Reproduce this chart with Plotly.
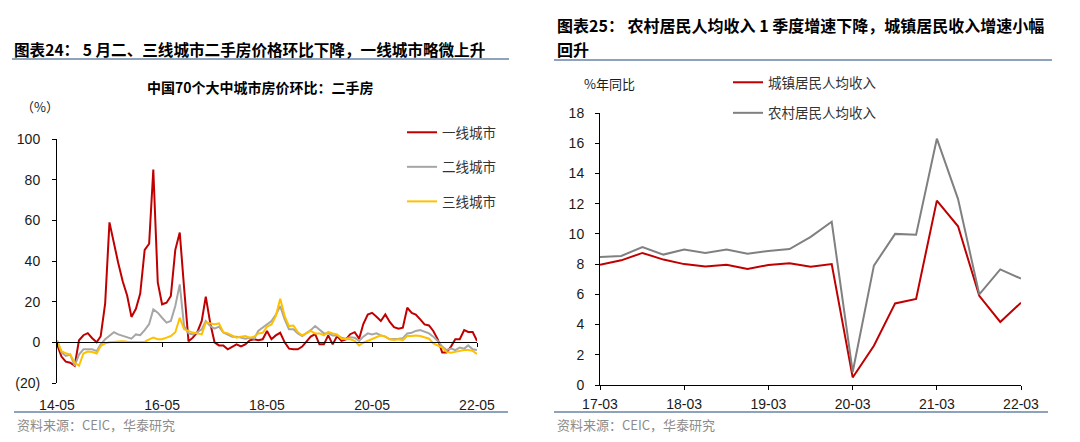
import plotly.graph_objects as go
import pandas as pd

# ---------------- data ----------------
months = pd.date_range("2014-05-01", periods=97, freq="MS")
tier1 = [-1, -7, -9.5, -10, -11.5, 1, 3.5, 4.5, 2, 0,
         3, 19, 59, 48, 39, 30, 23, 12.5, 16.5, 24,
         45.5, 48.5, 85, 29.5, 18.7, 19.5, 22.8, 45.5, 54, 27,
         0.5, 2.3, 5, 10.5, 22.5, 9.5, 0, -1.5, -1.5, -3.4,
         -2, -1, -2, -1, 1, 1.5, 1, 1.5, 5.6, 1.5,
         3.4, 4.7, 0, -3.1, -3.4, -3.4, -2.1, 0.7, 2.8, 4,
         -1, -1, 3.4, -1, 3.1, 0.7, 1.5, 4, 5, 1.8,
         9, 13.7, 14.5, 12.6, 10.5, 13.7, 10, 7.5, 6.7, 7.2,
         17, 14.5, 13.7, 11.3, 8.8, 8.3, 5.6, 1.5, -5, -5,
         -2.1, 1.5, 1.5, 6, 5.1, 5.1, 0.7]
tier2 = [1, -5, -6.7, -6, -11.5, -6, -3.4, -3.4, -3.4, -4.3,
         -1, 1.5, 3.1, 5, 3.9, 3.1, 2.3, 1.8, 3.9, 3.5,
         6, 9, 16.2, 14.6, 12.1, 9.7, 10.5, 17.9, 28.5, 8,
         4.4, 3.9, 5, 6.4, 10.5, 8, 6.7, 7.7, 4.8, 3.8,
         2.8, 2.8, 2.3, 1.8, 2.3, 1.8, 5.6, 7.2, 8.8, 10.5,
         13.5, 17.8, 11.3, 6.4, 6.4, 4.4, 3.1, 4.4, 6, 8,
         6.4, 4.4, 4.4, 3.4, 3.4, 2.3, 1.8, 2.5, 2.3, 0.7,
         2.8, 4.4, 3.9, 4.4, 3.4, 2.8, 1.5, 1.5, 1.8, 2,
         4.4, 4.7, 5.6, 6, 5.1, 4.4, 2.8, 0.7, -2.1, -3.8,
         -3.1, -3.8, -2.6, -3.1, -1.5, -3.4, -3.8]
tier3 = [1, -4.3, -5.4, -6, -10, -11.5, -5.5, -4.5, -4.8, -5.5,
         -1.8, -0.5, 0, 0.2, 0.5, 0.5, 0.3, 0.2, 0.2, 0,
         0.2, 1.5, 2.3, 1.5, 1.5, 2.3, 3.1, 5, 12.1, 6.4,
         5.6, 4.8, 4.4, 3.9, 9.7, 9.3, 8.9, 9.3, 5, 4.4,
         3.5, 2.3, 2.8, 3.1, 2.3, 2.8, 4.4, 4.7, 7.7, 8.8,
         12.9, 21.4, 12.9, 8, 8.3, 5.1, 3.4, 4.4, 5.6, 4.4,
         4.4, 3.4, 5.1, 4.4, 3.9, 1.8, 1.5, 1.5, 0.7, -1.5,
         -0.2, 0.7, 1.5, 2.8, 3.4, 2.8, 1.5, 1.1, 1.5, 1.1,
         3.1, 3.1, 3.4, 3.1, 2.3, 1.8, -0.5, -1.5, -2.6, -4.7,
         -5.1, -4.7, -4.2, -3.8, -3.8, -4.2, -5.7]
tier_names = ["一线城市", "二线城市", "三线城市"]
left_yticks = [-20, 0, 20, 40, 60, 80, 100]
left_yticktext = ["(20)", "0", "20", "40", "60", "80", "100"]
left_xticks = ["2014-05-01", "2016-05-01", "2018-05-01", "2020-05-01", "2022-05-01"]
left_xticktext = ["14-05", "16-05", "18-05", "20-05", "22-05"]

quarters = pd.date_range("2017-03-01", periods=21, freq="3MS")
urban = [7.96, 8.25, 8.74, 8.3, 8.0, 7.85, 7.96, 7.68, 7.94, 8.05,
         7.83, 8.0, 0.5, 2.6, 5.4, 5.7, 12.2, 10.5, 5.9, 4.17, 5.45]
rural = [8.47, 8.54, 9.13, 8.63, 8.96, 8.74, 8.96, 8.69, 8.87, 9.0,
         9.8, 10.8, 0.86, 7.9, 10.0, 9.95, 16.3, 12.3, 6.0, 7.65, 7.04]
income_names = ["城镇居民人均收入", "农村居民人均收入"]
right_xticks = ["2017-03-01", "2018-03-01", "2019-03-01", "2020-03-01", "2021-03-01", "2022-03-01"]
right_xticktext = ["17-03", "18-03", "19-03", "20-03", "21-03", "22-03"]

# ---------------- layout helpers ----------------
W, H = 1080, 442
OFF = 8  # page body margin
def px(x):
    return (x - OFF) / W
def py(y):
    return 1 - (y - OFF) / H

CJK = "Noto Sans CJK SC"
NUM = "Liberation Sans, Arial"
RED = "#C00000"
GRAY_L = "#A6A6A6"
YEL = "#FFC000"
GRAY_R = "#808080"
RULE = "#8EA2BC"

fig = go.Figure()
fig.add_trace(go.Scatter(x=months, y=tier1, name=tier_names[0], mode="lines",
                         line=dict(color=RED, width=2), xaxis="x", yaxis="y",
                         legend="legend", legendgroup="a"))
fig.add_trace(go.Scatter(x=months, y=tier2, name=tier_names[1], mode="lines",
                         line=dict(color=GRAY_L, width=2), xaxis="x", yaxis="y",
                         legend="legend", legendgroup="b"))
fig.add_trace(go.Scatter(x=months, y=tier3, name=tier_names[2], mode="lines",
                         line=dict(color=YEL, width=2), xaxis="x3", yaxis="y",
                         legend="legend", legendgroup="c"))
fig.add_trace(go.Scatter(x=quarters, y=urban, name=income_names[0], mode="lines",
                         line=dict(color=RED, width=2), xaxis="x2", yaxis="y2",
                         legend="legend2", legendgroup="d"))
fig.add_trace(go.Scatter(x=quarters, y=rural, name=income_names[1], mode="lines",
                         line=dict(color=GRAY_R, width=2), xaxis="x2", yaxis="y2",
                         legend="legend2", legendgroup="e"))

ly0, ly1 = py(383), py(139)
zero_pos = ly0 + (0 - (-20)) / 120 * (ly1 - ly0)
xr_left = [months[0], months[-1]]

tickfont = dict(family=NUM, size=14, color="#1a1a1a")

fig.update_layout(
    template="none",
    width=W, height=H,
    margin=dict(l=0, r=0, t=0, b=0, autoexpand=False),
    paper_bgcolor="white", plot_bgcolor="rgba(0,0,0,0)",
    showlegend=True,
    xaxis=dict(domain=[px(57), px(477)], range=xr_left, anchor="y", automargin=False,
               tickvals=left_xticks, ticktext=left_xticktext, ticks="outside",
               ticklen=7, tickcolor="rgba(0,0,0,0)", ticklabelstandoff=2,
               showline=False, showgrid=False, zeroline=False, tickfont=tickfont),
    xaxis3=dict(overlaying="x", anchor="free", position=zero_pos, range=xr_left,
                automargin=False,
                tickvals=left_xticks, showticklabels=False, ticks="outside",
                ticklen=4, tickcolor="#000", showline=True, linecolor="#000",
                linewidth=1, showgrid=False, zeroline=False),
    yaxis=dict(domain=[ly0, ly1], range=[-20, 100], anchor="x", automargin=False,
               tickvals=left_yticks, ticktext=left_yticktext, ticks="outside",
               ticklen=4, tickcolor="#000", showline=True, linecolor="#000",
               ticklabelstandoff=9,
               showgrid=False, zeroline=False, tickfont=tickfont),
    xaxis2=dict(domain=[px(600), px(1021)], range=[quarters[0], quarters[-1]],
                anchor="y2", automargin=False, tickvals=right_xticks, ticktext=right_xticktext,
                ticks="outside", ticklen=4, tickcolor="#000", showline=True,
                ticklabelstandoff=2,
                linecolor="#000", showgrid=False, zeroline=False, tickfont=tickfont),
    yaxis2=dict(domain=[py(385), py(113)], range=[0, 18], anchor="x2", dtick=2,
                automargin=False, ticklabelstandoff=8,
                ticks="outside", ticklen=4, tickcolor="#000", showline=True,
                linecolor="#000", showgrid=False, zeroline=False, tickfont=tickfont),
    legend=dict(x=px(402), y=py(117), xanchor="left", yanchor="top",
                bgcolor="rgba(0,0,0,0)", tracegroupgap=14,
                font=dict(family=CJK, size=13.5, color="#333")),
    legend2=dict(x=px(728), y=py(67), xanchor="left", yanchor="top",
                 bgcolor="rgba(0,0,0,0)", tracegroupgap=10,
                 font=dict(family=CJK, size=13.5, color="#333")),
)

# titles
fig.add_annotation(x=px(12), y=py(49), xref="paper", yref="paper", xanchor="left",
                   yanchor="middle", showarrow=False,
                   text="<b>图表24： 5 月二、三线城市二手房价格环比下降，一线城市略微上升</b>",
                   font=dict(family=CJK, size=15.6, color="#000"))
fig.add_annotation(x=px(555), y=py(25), xref="paper", yref="paper", xanchor="left",
                   yanchor="middle", showarrow=False,
                   text="<b>图表25： 农村居民人均收入 1 季度增速下降，城镇居民收入增速小幅</b>",
                   font=dict(family=CJK, size=16, color="#000"))
fig.add_annotation(x=px(555), y=py(49), xref="paper", yref="paper", xanchor="left",
                   yanchor="middle", showarrow=False, text="<b>回升</b>",
                   font=dict(family=CJK, size=16, color="#000"))
fig.add_annotation(x=px(260), y=py(87), xref="paper", yref="paper", xanchor="center",
                   yanchor="middle", showarrow=False,
                   text="<b>中国70个大中城市房价环比：二手房</b>",
                   font=dict(family=CJK, size=14, color="#000"))
fig.add_annotation(x=px(40), y=py(106), xref="paper", yref="paper", xanchor="center",
                   yanchor="middle", showarrow=False, text="（%）",
                   font=dict(family=CJK, size=13, color="#1a1a1a"))
fig.add_annotation(x=px(582), y=py(83), xref="paper", yref="paper", xanchor="left",
                   yanchor="middle", showarrow=False, text="%年同比",
                   font=dict(family=CJK, size=13, color="#1a1a1a"))
for xl in (15, 555):
    fig.add_annotation(x=px(xl), y=py(424), xref="paper", yref="paper", xanchor="left",
                       yanchor="middle", showarrow=False, text="资料来源：CEIC，华泰研究",
                       font=dict(family=CJK, size=13, color="#8c8c8c"))

# decorative rules
for (x0, x1, y) in [(12, 509, 59), (554, 1052, 60), (14, 508, 412), (554, 1048, 412)]:
    fig.add_shape(type="line", xref="paper", yref="paper", x0=px(x0), x1=px(x1),
                  y0=py(y), y1=py(y), line=dict(color=RULE, width=2))

fig.write_html("out.html")
